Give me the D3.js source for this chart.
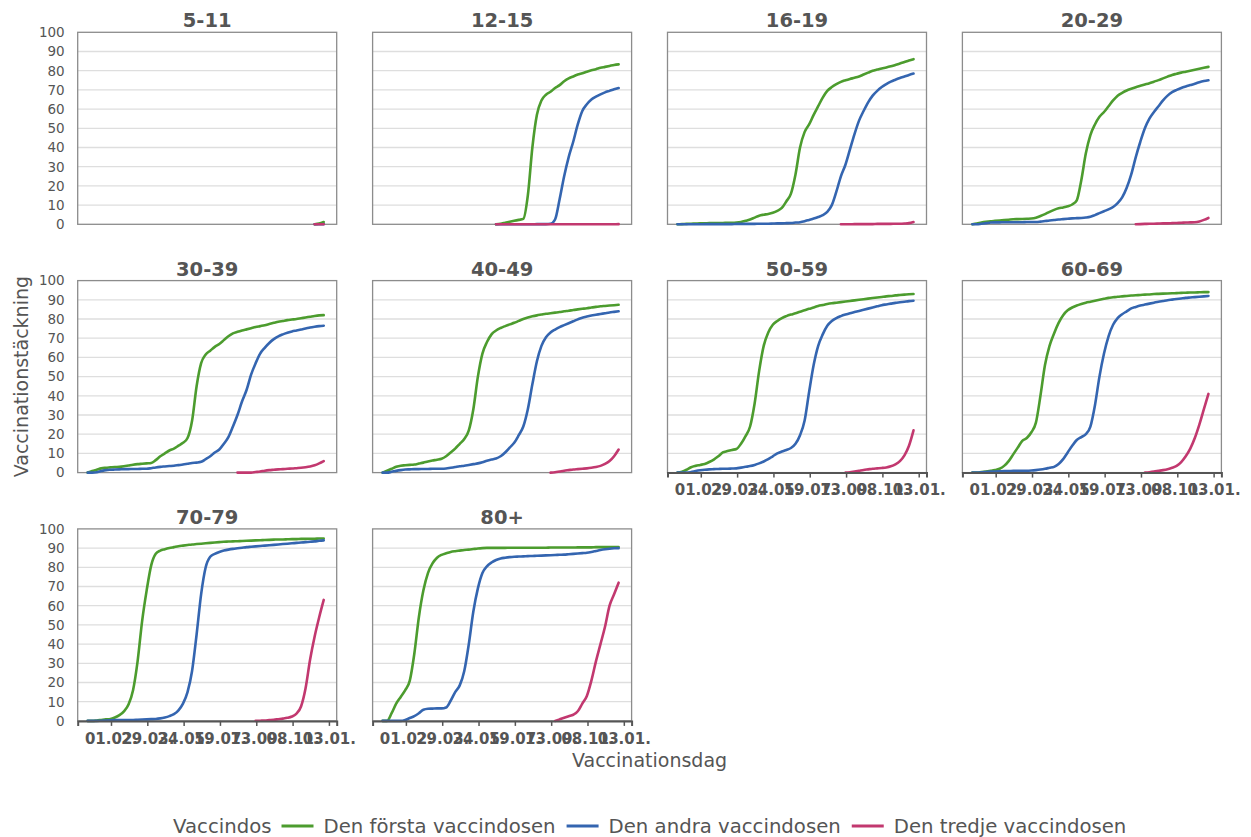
<!DOCTYPE html>
<html>
<head>
<meta charset="utf-8">
<script src="https://cdn.jsdelivr.net/npm/d3@7"></script>
<style>
  body { margin: 0; background: #fff; }
  text { font-family: "DejaVu Sans", sans-serif; }
</style>
</head>
<body>
<script>
// weekly points, Sunday 27.12.2020 .. 26.12.2021 (w0..w52)
var firstDay = new Date(2020, 11, 27);
var weeks = d3.range(53).map(function(i) { return d3.timeDay.offset(firstDay, 7 * i); });

var ageGroups = ["5-11", "12-15", "16-19", "20-29", "30-39", "40-49", "50-59", "60-69", "70-79", "80+"];
var doseNames = ["Den första vaccindosen", "Den andra vaccindosen", "Den tredje vaccindosen"];
var doseColors = ["#4c9c2e", "#3465b0", "#c2386f"];

var tickDates = [new Date(2021, 1, 1), new Date(2021, 2, 29), new Date(2021, 4, 24), new Date(2021, 6, 19),
                 new Date(2021, 8, 13), new Date(2021, 10, 8), new Date(2022, 0, 3)];
var yTicks = [0, 10, 20, 30, 40, 50, 60, 70, 80, 90, 100];

// week index where each series begins
var startWeek = [50, 25, 0, 0, 0, 0, 0, 0, 0, 0];          // first and second dose
var thirdStartWeek = [50, 25, 36, 36, 33, 37, 37, 38, 37, 38];

// vaccination coverage (%), one array per age group and dose
var d1_5_11 = [0, 0.4, 1.2];
var d2_5_11 = [0, 0, 0.1];
var d3_5_11 = [0, 0, 0];

var d1_12_15 = [0, 0.3, 0.8, 1.3, 1.8, 2.3, 2.8, 15, 40, 57, 64.5, 67.5, 69, 71, 72.5, 74.5, 76, 77, 78, 78.7, 79.5, 80.2, 80.8, 81.5, 82, 82.5, 83, 83.3];
var d2_12_15 = [0, 0, 0, 0, 0, 0, 0, 0, 0, 0.1, 0.1, 0.1, 0.3, 2.5, 13, 25, 35, 43, 52, 59, 62.5, 65, 66.5, 67.7, 68.7, 69.5, 70.3, 71];
var d3_12_15 = [0, 0, 0, 0, 0, 0, 0, 0, 0, 0, 0, 0, 0, 0, 0, 0, 0, 0, 0, 0, 0, 0, 0, 0, 0, 0, 0, 0.1];

var d1_16_19 = [0, 0.1, 0.2, 0.3, 0.4, 0.5, 0.5, 0.6, 0.6, 0.7, 0.7, 0.8, 0.8, 0.9, 1.2, 1.8, 2.5, 3.5, 4.5, 5, 5.4, 6, 7, 8.5, 12, 16, 26, 40, 48, 52, 57, 61.5, 66, 69.5, 71.5, 73, 74.2, 75, 75.7, 76.3, 77, 78, 79, 80, 80.6, 81.2, 81.7, 82.3, 83, 83.7, 84.5, 85.3, 86];
var d2_16_19 = [0, 0, 0, 0, 0, 0, 0.1, 0.1, 0.1, 0.1, 0.1, 0.1, 0.1, 0.2, 0.2, 0.2, 0.2, 0.2, 0.3, 0.3, 0.3, 0.4, 0.5, 0.5, 0.6, 0.7, 0.9, 1.1, 1.6, 2.3, 3, 3.8, 4.8, 6.5, 10, 17, 25, 31, 39, 47, 54, 59, 63.5, 67, 69.5, 71.5, 73, 74.3, 75.3, 76.2, 77, 77.8, 78.5];
var d3_16_19 = [0, 0, 0, 0.1, 0.1, 0.1, 0.1, 0.1, 0.2, 0.2, 0.2, 0.2, 0.3, 0.3, 0.4, 0.6, 1.2];

var d1_20_29 = [0, 0.4, 0.9, 1.3, 1.6, 1.8, 2, 2.2, 2.4, 2.6, 2.7, 2.8, 2.9, 3, 3.4, 4.3, 5.3, 6.5, 7.5, 8.3, 8.8, 9.4, 10.3, 12.5, 23, 37, 46.5, 52, 56, 58.5, 61.5, 64.5, 67, 68.5, 69.7, 70.6, 71.4, 72.1, 72.8, 73.5, 74.3, 75.1, 76, 76.9, 77.8, 78.4, 79, 79.5, 80, 80.5, 81, 81.5, 82];
var d2_20_29 = [0, 0, 0.3, 0.6, 0.9, 1, 1, 1.1, 1.1, 1.1, 1.1, 1.1, 1.2, 1.2, 1.2, 1.4, 1.7, 2, 2.2, 2.5, 2.7, 2.9, 3.1, 3.2, 3.3, 3.5, 3.9, 4.8, 5.8, 6.8, 7.8, 9, 11, 14, 19, 26, 35, 43, 50, 55, 58.5, 61.5, 64.5, 67, 68.8, 70, 71, 71.8, 72.5, 73.2, 74, 74.6, 75];
var d3_20_29 = [0, 0.1, 0.2, 0.3, 0.3, 0.4, 0.5, 0.5, 0.6, 0.7, 0.8, 0.9, 1, 1.1, 1.5, 2.3, 3.3];

var d1_30_39 = [0, 0.8, 1.5, 2.2, 2.5, 2.7, 2.9, 3, 3.3, 3.7, 4.1, 4.4, 4.6, 4.8, 5, 6.5, 8.5, 10, 11.5, 12.5, 14, 15.5, 18, 27, 45, 57, 61.5, 63.5, 65.5, 67, 69, 71, 72.5, 73.3, 74, 74.6, 75.2, 75.8, 76.3, 76.8, 77.4, 78, 78.6, 79, 79.4, 79.7, 80, 80.4, 80.8, 81.2, 81.6, 81.9, 82];
var d2_30_39 = [0, 0, 0.2, 0.8, 1.3, 1.5, 1.6, 1.7, 1.8, 1.8, 1.9, 1.9, 2, 2, 2.3, 2.7, 3, 3.2, 3.4, 3.6, 3.9, 4.2, 4.6, 5, 5.2, 5.6, 7, 8.5, 10.5, 12, 15, 18.5, 24, 30, 37, 43, 51, 57, 62, 65, 67.5, 69.5, 71, 72, 72.8, 73.5, 74, 74.5, 75, 75.6, 76, 76.3, 76.5];
var d3_30_39 = [0, 0, 0, 0, 0.3, 0.6, 1, 1.3, 1.5, 1.7, 1.8, 2, 2.1, 2.3, 2.5, 2.8, 3.2, 3.8, 4.8, 6];

var d1_40_49 = [0, 1, 2, 3, 3.6, 3.8, 4, 4.2, 4.7, 5.2, 5.8, 6.3, 6.7, 7.2, 8.5, 10.5, 12.5, 15, 17.5, 22, 33, 50, 62, 68, 72, 74, 75.3, 76.3, 77.2, 78, 79, 80, 80.8, 81.4, 81.9, 82.3, 82.7, 83, 83.3, 83.6, 84, 84.3, 84.7, 85, 85.3, 85.6, 86, 86.3, 86.6, 86.8, 87, 87.2, 87.4];
var d2_40_49 = [0, 0, 0.4, 0.9, 1.3, 1.6, 1.7, 1.8, 1.8, 1.9, 1.9, 2, 2, 2, 2.1, 2.5, 2.9, 3.3, 3.6, 4, 4.4, 4.8, 5.4, 6.2, 6.8, 7.3, 8.5, 10.5, 13, 15.5, 19.5, 24, 33, 46, 58, 66, 70.5, 73, 74.5, 75.8, 76.8, 77.8, 78.8, 79.8, 80.7, 81.3, 81.8, 82.2, 82.6, 83, 83.4, 83.7, 84];
var d3_40_49 = [0, 0.2, 0.6, 1, 1.3, 1.6, 1.8, 2, 2.2, 2.5, 2.9, 3.5, 4.5, 6, 8.5, 12];

var d1_50_59 = [0, 0.5, 1.5, 2.8, 3.5, 4, 4.5, 5.5, 6.8, 8.5, 10.5, 11.2, 11.8, 12.3, 15, 19, 24, 36, 53, 66, 73, 77, 79, 80.5, 81.5, 82.3, 83, 83.8, 84.5, 85.3, 86, 86.8, 87.3, 87.8, 88.2, 88.5, 88.8, 89.1, 89.4, 89.7, 90, 90.3, 90.6, 90.9, 91.2, 91.5, 91.8, 92, 92.3, 92.5, 92.7, 92.9, 93];
var d2_50_59 = [0, 0, 0, 0.3, 0.8, 1.2, 1.5, 1.7, 1.8, 1.9, 2, 2, 2.1, 2.2, 2.6, 3, 3.4, 4, 4.8, 5.8, 7, 8.5, 10, 11, 11.8, 12.8, 15, 19.5, 27, 42, 56, 66, 72, 76.5, 79, 80.5, 81.5, 82.3, 83, 83.6, 84.2, 84.8, 85.4, 86, 86.6, 87.2, 87.6, 88, 88.4, 88.7, 89, 89.3, 89.5];
var d3_50_59 = [0, 0.2, 0.6, 1, 1.4, 1.7, 2, 2.2, 2.4, 2.7, 3.3, 4.3, 6, 9, 14, 22];

var d1_60_69 = [0, 0, 0.3, 0.6, 0.9, 1.3, 2, 3.5, 6, 9.5, 13, 16.5, 18, 21, 26, 40, 56, 66, 72.5, 78, 82, 84.5, 86, 87, 87.8, 88.5, 89, 89.5, 90, 90.5, 91, 91.3, 91.6, 91.8, 92, 92.2, 92.4, 92.5, 92.7, 92.8, 93, 93.1, 93.2, 93.3, 93.4, 93.5, 93.6, 93.7, 93.8, 93.8, 93.9, 94, 94];
var d2_60_69 = [0, 0, 0.1, 0.3, 0.5, 0.6, 0.7, 0.8, 0.8, 0.9, 0.9, 1, 1, 1.1, 1.3, 1.6, 2, 2.5, 3, 4.5, 7, 10.5, 14, 17, 18.5, 20, 24, 35, 50, 62, 71, 77, 80.5, 82.5, 84, 85.5, 86.3, 87, 87.5, 88, 88.5, 89, 89.4, 89.8, 90.1, 90.4, 90.7, 91, 91.2, 91.4, 91.6, 91.8, 92];
var d3_60_69 = [0, 0.2, 0.5, 0.9, 1.3, 1.8, 2.5, 3.5, 5.5, 8.5, 12.5, 18, 25, 33, 41];

var d1_70_79 = [0, 0, 0.2, 0.5, 0.8, 1, 1.8, 3, 5, 8.5, 16, 31, 52, 68, 81, 87, 88.7, 89.4, 90, 90.5, 91, 91.3, 91.6, 91.9, 92.1, 92.3, 92.5, 92.7, 92.9, 93.1, 93.3, 93.4, 93.5, 93.6, 93.7, 93.8, 93.9, 94, 94.1, 94.2, 94.3, 94.4, 94.5, 94.5, 94.6, 94.7, 94.7, 94.8, 94.8, 94.9, 94.9, 95, 95];
var d2_70_79 = [0, 0, 0, 0.1, 0.2, 0.3, 0.4, 0.5, 0.5, 0.5, 0.5, 0.6, 0.7, 0.8, 0.9, 1, 1.3, 1.8, 2.5, 3.5, 5.5, 9, 15, 26, 45, 66, 80, 85.5, 87, 88, 88.7, 89.2, 89.6, 89.9, 90.2, 90.5, 90.7, 90.9, 91.1, 91.3, 91.5, 91.7, 91.9, 92.1, 92.3, 92.5, 92.7, 92.9, 93.1, 93.3, 93.5, 93.8, 94];
var d3_70_79 = [0, 0.1, 0.2, 0.4, 0.6, 0.9, 1.2, 1.6, 2.3, 3.8, 7.5, 17, 32, 44, 54, 63];

var d1_80 = [0, 0, 4, 9, 12.5, 16, 21, 35, 54, 68, 77, 82, 85, 86.5, 87.3, 88, 88.4, 88.7, 89, 89.2, 89.5, 89.8, 90, 90.1, 90.1, 90.1, 90.1, 90.1, 90.2, 90.2, 90.2, 90.2, 90.2, 90.2, 90.2, 90.2, 90.2, 90.3, 90.3, 90.3, 90.3, 90.3, 90.3, 90.4, 90.4, 90.4, 90.4, 90.5, 90.5, 90.5, 90.5, 90.6, 90.6];
var d2_80 = [0, 0, 0, 0, 0, 0.5, 1.5, 2.5, 4, 5.8, 6.3, 6.4, 6.5, 6.5, 7, 10.5, 15, 18.5, 26, 40, 57, 69, 77, 80.5, 82.5, 83.8, 84.6, 85, 85.3, 85.5, 85.6, 85.7, 85.8, 85.9, 86, 86.1, 86.2, 86.3, 86.4, 86.5, 86.6, 86.8, 87, 87.2, 87.4, 87.6, 88, 88.5, 89, 89.4, 89.7, 89.9, 90];
var d3_80 = [0, 0.8, 1.6, 2.4, 3.2, 5, 9, 13, 21, 31, 40, 49, 60, 66, 72];

var doseValues = [
  [d1_5_11, d1_12_15, d1_16_19, d1_20_29, d1_30_39, d1_40_49, d1_50_59, d1_60_69, d1_70_79, d1_80],
  [d2_5_11, d2_12_15, d2_16_19, d2_20_29, d2_30_39, d2_40_49, d2_50_59, d2_60_69, d2_70_79, d2_80],
  [d3_5_11, d3_12_15, d3_16_19, d3_20_29, d3_30_39, d3_40_49, d3_50_59, d3_60_69, d3_70_79, d3_80]
];

// layout
var W = 1251, H = 837;
var pw = 259, ph = 192;
var left0 = 77.7, top0 = 32.3, colStep = 294.9, rowStep = 248.3;
var withXAxis = ["50-59", "60-69", "70-79", "80+"];
var textColor = "#555";

var svg = d3.select("body").append("svg")
    .attr("width", W)
    .attr("height", H)
    .style("background", "#fff");

var x = d3.scaleTime()
    .domain([new Date(2020, 11, 11, 16), new Date(2022, 0, 15)])
    .range([0, pw]);
var y = d3.scaleLinear().domain([0, 100]).range([ph, 0]);

var line = d3.line()
    .defined(function(d) { return d.v != null; })
    .curve(d3.curveMonotoneX)
    .x(function(d) { return x(d.date); })
    .y(function(d) { return y(d.v); });

ageGroups.forEach(function(group, i) {
  var col = i % 4, row = Math.floor(i / 4);
  var g = svg.append("g")
      .attr("transform", "translate(" + (left0 + col * colStep) + "," + (top0 + row * rowStep) + ")");

  // horizontal grid
  g.selectAll(".grid")
      .data(yTicks.slice(1, -1))
    .enter().append("line")
      .attr("x1", 0).attr("x2", pw)
      .attr("y1", function(d) { return y(d); })
      .attr("y2", function(d) { return y(d); })
      .attr("stroke", "#dedede")
      .attr("stroke-width", 1.3);

  // panel frame
  g.append("rect")
      .attr("width", pw).attr("height", ph)
      .attr("fill", "none")
      .attr("stroke", "#8c8c8c")
      .attr("stroke-width", 1.3);

  // the three dose lines
  [0, 1, 2].forEach(function(k) {
    var start = k == 2 ? thirdStartWeek[i] : startWeek[i];
    var pts = doseValues[k][i].map(function(v, j) { return {date: weeks[start + j], v: v}; });
    g.append("path")
        .datum(pts)
        .attr("fill", "none")
        .attr("stroke", doseColors[k])
        .attr("stroke-width", 2.6)
        .attr("stroke-linejoin", "round")
        .attr("stroke-linecap", "round")
        .attr("d", line);
  });

  // panel title
  g.append("text")
      .attr("x", pw / 2)
      .attr("y", -5)
      .attr("text-anchor", "middle")
      .style("font-size", "19.5px")
      .style("font-weight", "bold")
      .attr("fill", textColor)
      .text(group);

  // y labels on first column
  if (col == 0) {
    var ya = g.append("g")
        .call(d3.axisLeft(y).tickValues(yTicks).tickSize(0).tickPadding(13));
    ya.select(".domain").remove();
    ya.selectAll("text")
        .style("font-size", "13.5px")
        .attr("fill", textColor);
  }

  // x axis on the lowest panel of each column
  if (withXAxis.indexOf(group) >= 0) {
    var xa = g.append("g")
        .attr("transform", "translate(0," + ph + ")")
        .call(d3.axisBottom(x).tickValues(tickDates)
          .tickFormat(d3.timeFormat("%d.%m."))
          .tickSizeOuter(0).tickSize(5).tickPadding(7));
    xa.select(".domain").attr("stroke", "#555").attr("stroke-width", 2);
    xa.selectAll(".tick line").attr("stroke", "#555").attr("stroke-width", 1.5);
    xa.selectAll("text")
        .style("font-size", "15px")
        .style("font-weight", "bold")
        .attr("fill", textColor);
  }
});

// axis titles
svg.append("text")
    .attr("x", left0 + (3 * colStep + pw) / 2)
    .attr("y", 767)
    .attr("text-anchor", "middle")
    .style("font-size", "19px")
    .attr("fill", textColor)
    .text("Vaccinationsdag");

svg.append("text")
    .attr("transform", "translate(28," + (top0 + (2 * rowStep + ph) / 2) + ") rotate(-90)")
    .attr("text-anchor", "middle")
    .style("font-size", "19px")
    .attr("fill", textColor)
    .text("Vaccinationstäckning");

// legend
var legend = svg.append("g");
var lx = 0, ly = 833;
var title = legend.append("text")
    .attr("x", lx).attr("y", ly)
    .style("font-size", "19.7px")
    .attr("fill", textColor)
    .text("Vaccindos");
lx += title.node().getComputedTextLength() + 10;
doseNames.forEach(function(name, k) {
  legend.append("line")
      .attr("x1", lx).attr("x2", lx + 32)
      .attr("y1", ly - 7).attr("y2", ly - 7)
      .attr("stroke", doseColors[k])
      .attr("stroke-width", 3);
  lx += 42;
  var t = legend.append("text")
      .attr("x", lx).attr("y", ly)
      .style("font-size", "19.7px")
      .attr("fill", textColor)
      .text(name);
  lx += t.node().getComputedTextLength() + 11;
});
lx -= 11;
legend.attr("transform", "translate(" + (649.7 - lx / 2) + ",0)");
</script>
</body>
</html>
